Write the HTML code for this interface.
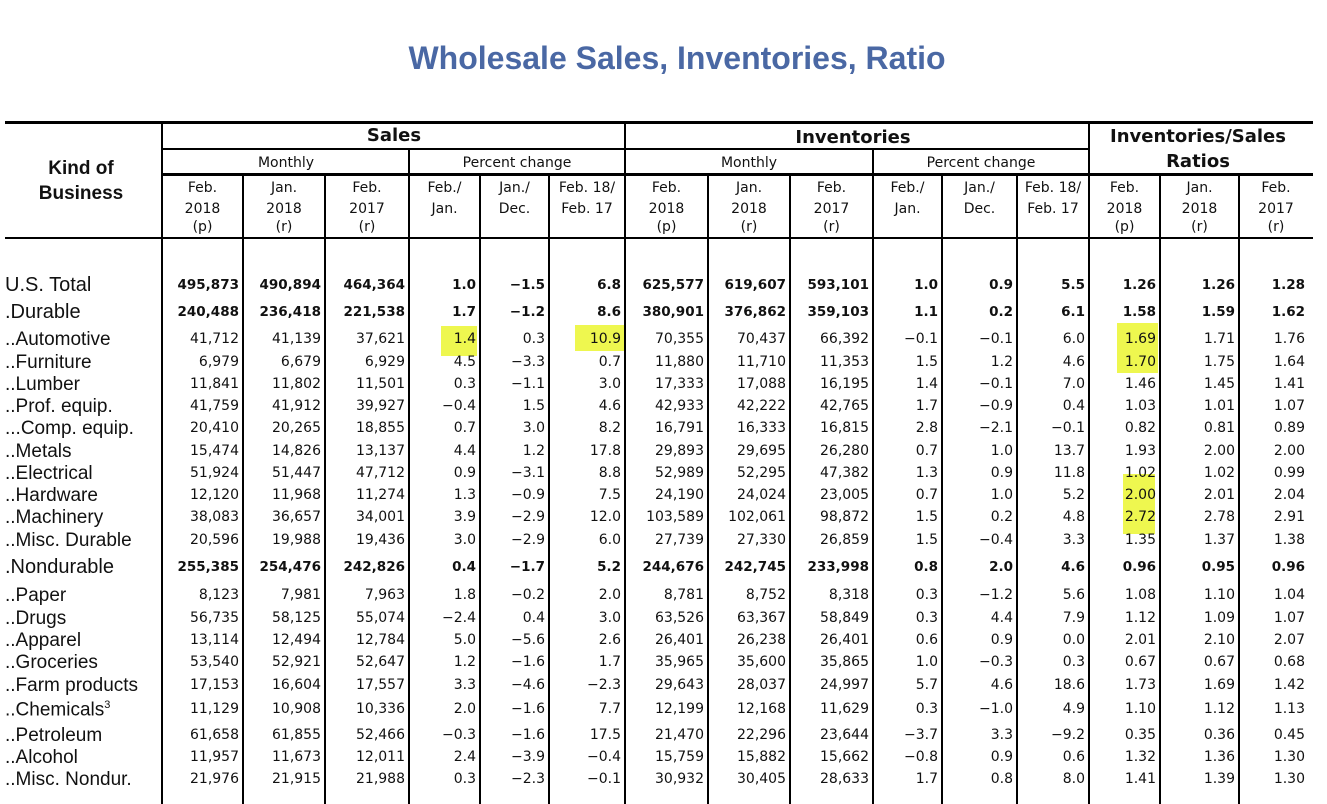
<!DOCTYPE html>
<html><head><meta charset="utf-8">
<style>
html,body{margin:0;padding:0;background:#fff;}
#wrap{position:relative;width:1327px;height:804px;overflow:hidden;font-family:"DejaVu Sans","Liberation Sans",sans-serif;color:#111;}
.t{position:absolute;white-space:nowrap;line-height:1;}
.ln{position:absolute;background:#000;}
.hl{position:absolute;background:#eef74f;}
</style></head><body>
<div id="wrap">
<div class="t" style="left:0;width:1354px;text-align:center;top:40px;font:bold 32px 'Liberation Sans',sans-serif;color:#4a68a4;">Wholesale Sales, Inventories, Ratio</div>
</div>
<script>
const labels=["U.S. Total",".Durable","..Automotive","..Furniture","..Lumber","..Prof. equip.","...Comp. equip.","..Metals","..Electrical","..Hardware","..Machinery","..Misc. Durable",".Nondurable","..Paper","..Drugs","..Apparel","..Groceries","..Farm products","..Chemicals","..Petroleum","..Alcohol","..Misc. Nondur."];
const boldRows=[0,1,12];
const salesMonthly=[
["495,873","490,894","464,364"],["240,488","236,418","221,538"],["41,712","41,139","37,621"],["6,979","6,679","6,929"],["11,841","11,802","11,501"],["41,759","41,912","39,927"],["20,410","20,265","18,855"],["15,474","14,826","13,137"],["51,924","51,447","47,712"],["12,120","11,968","11,274"],["38,083","36,657","34,001"],["20,596","19,988","19,436"],["255,385","254,476","242,826"],["8,123","7,981","7,963"],["56,735","58,125","55,074"],["13,114","12,494","12,784"],["53,540","52,921","52,647"],["17,153","16,604","17,557"],["11,129","10,908","10,336"],["61,658","61,855","52,466"],["11,957","11,673","12,011"],["21,976","21,915","21,988"]];
const salesPct=[
["1.0","\u22121.5","6.8"],["1.7","\u22121.2","8.6"],["1.4","0.3","10.9"],["4.5","\u22123.3","0.7"],["0.3","\u22121.1","3.0"],["\u22120.4","1.5","4.6"],["0.7","3.0","8.2"],["4.4","1.2","17.8"],["0.9","\u22123.1","8.8"],["1.3","\u22120.9","7.5"],["3.9","\u22122.9","12.0"],["3.0","\u22122.9","6.0"],["0.4","\u22121.7","5.2"],["1.8","\u22120.2","2.0"],["\u22122.4","0.4","3.0"],["5.0","\u22125.6","2.6"],["1.2","\u22121.6","1.7"],["3.3","\u22124.6","\u22122.3"],["2.0","\u22121.6","7.7"],["\u22120.3","\u22121.6","17.5"],["2.4","\u22123.9","\u22120.4"],["0.3","\u22122.3","\u22120.1"]];
const invMonthly=[
["625,577","619,607","593,101"],["380,901","376,862","359,103"],["70,355","70,437","66,392"],["11,880","11,710","11,353"],["17,333","17,088","16,195"],["42,933","42,222","42,765"],["16,791","16,333","16,815"],["29,893","29,695","26,280"],["52,989","52,295","47,382"],["24,190","24,024","23,005"],["103,589","102,061","98,872"],["27,739","27,330","26,859"],["244,676","242,745","233,998"],["8,781","8,752","8,318"],["63,526","63,367","58,849"],["26,401","26,238","26,401"],["35,965","35,600","35,865"],["29,643","28,037","24,997"],["12,199","12,168","11,629"],["21,470","22,296","23,644"],["15,759","15,882","15,662"],["30,932","30,405","28,633"]];
const invPct=[
["1.0","0.9","5.5"],["1.1","0.2","6.1"],["\u22120.1","\u22120.1","6.0"],["1.5","1.2","4.6"],["1.4","\u22120.1","7.0"],["1.7","\u22120.9","0.4"],["2.8","\u22122.1","\u22120.1"],["0.7","1.0","13.7"],["1.3","0.9","11.8"],["0.7","1.0","5.2"],["1.5","0.2","4.8"],["1.5","\u22120.4","3.3"],["0.8","2.0","4.6"],["0.3","\u22121.2","5.6"],["0.3","4.4","7.9"],["0.6","0.9","0.0"],["1.0","\u22120.3","0.3"],["5.7","4.6","18.6"],["0.3","\u22121.0","4.9"],["\u22123.7","3.3","\u22129.2"],["\u22120.8","0.9","0.6"],["1.7","0.8","8.0"]];
const ratios=[
["1.26","1.26","1.28"],["1.58","1.59","1.62"],["1.69","1.71","1.76"],["1.70","1.75","1.64"],["1.46","1.45","1.41"],["1.03","1.01","1.07"],["0.82","0.81","0.89"],["1.93","2.00","2.00"],["1.02","1.02","0.99"],["2.00","2.01","2.04"],["2.72","2.78","2.91"],["1.35","1.37","1.38"],["0.96","0.95","0.96"],["1.08","1.10","1.04"],["1.12","1.09","1.07"],["2.01","2.10","2.07"],["0.67","0.67","0.68"],["1.73","1.69","1.42"],["1.10","1.12","1.13"],["0.35","0.36","0.45"],["1.32","1.36","1.30"],["1.41","1.39","1.30"]];
const colHeads=[["Feb.","2018","(p)"],["Jan.","2018","(r)"],["Feb.","2017","(r)"],["Feb./","Jan."],["Jan./","Dec."],["Feb. 18/","Feb. 17"]];

const W=document.getElementById('wrap');
const rowY=[284,311,338,361,383,405,427,450,472,494,516,539,566,594,617,639,661,684,708,734,756,778];
const colX=[162,243,325,409,480,549,625,708,790,873,942,1017,1089,1160,1239,1313];
function txt(s,x,y,opts,name){
  const d=document.createElement('div');
  d.className='t';
  
  
  d.textContent=s;
  let st='font-size:'+(opts.size||14)+'px;';
  if(opts.bold) st+='font-weight:bold;';
  if(opts.ff) st+='font-family:'+opts.ff+';';
  if(opts.align==='right'){st+='right:'+(1327-x)+'px;';}
  else if(opts.align==='center'){st+='left:'+(x-150)+'px;width:300px;text-align:center;';}
  else st+='left:'+x+'px;';
  st+='top:'+(y-(opts.size||14)*0.55+2)+'px;';
  d.style.cssText+=st;
  W.appendChild(d);return d;
}
function line(x,y,w,h,name){
  const d=document.createElement('div');d.className='ln';
  
  
  d.style.left=x+'px';d.style.top=y+'px';d.style.width=w+'px';d.style.height=h+'px';
  W.appendChild(d);
}
function hl(x,y,w,h){
  const d=document.createElement('div');d.className='hl';
  
  
  d.style.cssText='left:'+x+'px;top:'+y+'px;width:'+w+'px;height:'+h+'px;';
  W.appendChild(d);
}
hl(441,326,36,30);hl(575,325,49,26);hl(1117,323,41,50);hl(1123,474,32,60);
line(5,121,1308,3,'top-rule');
line(162,148,926,2,'group-rule');
line(162,173,1151,3,'subgroup-rule');
line(5,237,1308,2,'header-rule');
colX.slice(0,15).forEach((x,i)=>{
  let top=174;
  if(i===0||i===6||i===12) top=122;
  else if(i===3||i===9) top=149;
  line(x-1,top,2,804-top,'column-divider');
});
const lab='"Liberation Sans",sans-serif';
txt('Kind of',81,167,{size:19,bold:true,align:'center',ff:lab},'kind-header');
txt('Business',81,192,{size:19,bold:true,align:'center',ff:lab},'kind-header');
txt('Sales',394,135,{size:18,bold:true,align:'center'},'sales-header');
txt('Inventories',853,137,{size:18,bold:true,align:'center'},'inventories-header');
txt('Inventories/Sales',1198,136,{size:18,bold:true,align:'center'},'ratio-header');
txt('Ratios',1198,161,{size:18,bold:true,align:'center'},'ratio-header');
[[286,'Monthly'],[517,'Percent change'],[749,'Monthly'],[981,'Percent change']].forEach(p=>txt(p[1],p[0],162,{size:14,align:'center'},'subgroup-header'));
for(let c=0;c<15;c++){
  const h=colHeads[c<12?c%6:c-12];
  const cx=(colX[c]+colX[c+1])/2;
  h.forEach((s,k)=>txt(s,cx,[187,208,226][k],{size:14,align:'center'},'column-header'));
}
labels.forEach((l,r)=>{
  const big=boldRows.includes(r);
  const d=txt(l,5,rowY[r],{size:big?20:19,ff:lab},'row-label');
  if(r===18){const s=document.createElement('sup');s.textContent='3';s.style.fontSize='11px';d.appendChild(s);}
  const vals=[...salesMonthly[r],...salesPct[r],...invMonthly[r],...invPct[r],...ratios[r]];
  vals.forEach((v,c)=>{
    const right=c===14?1305:colX[c+1]-4;
    txt(v,right,rowY[r],{size:big?13.5:14,bold:big,align:'right'},'cell-value');
  });
});
</script>
</body></html>
